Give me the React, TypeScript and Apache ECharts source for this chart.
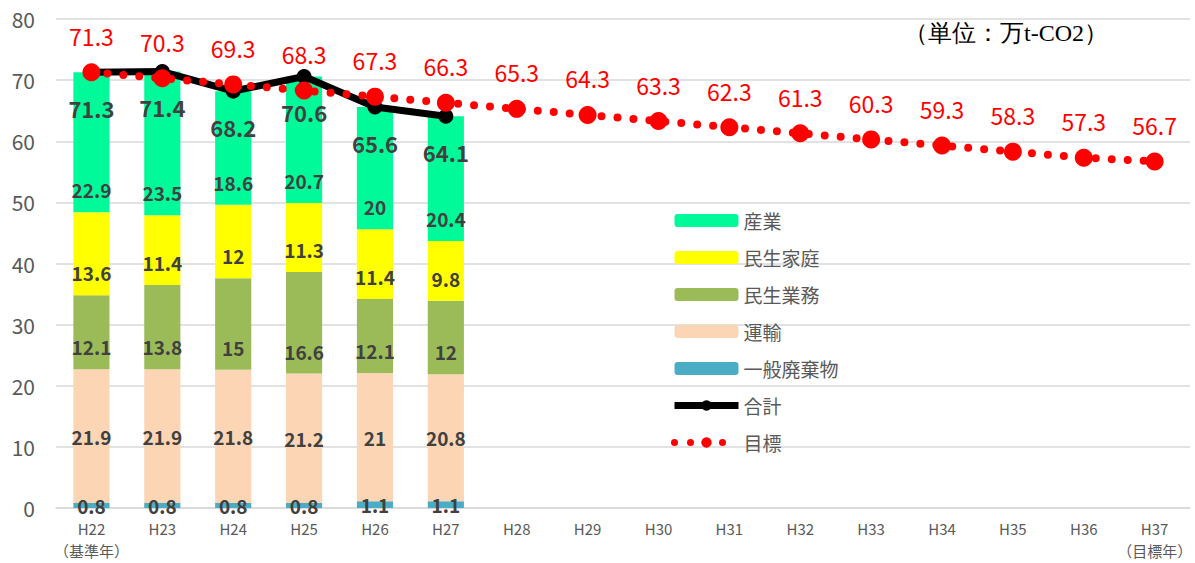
import React, { useEffect, useRef } from "react";
import * as echarts from "echarts";

const categories = ["H22\n（基準年）", "H23", "H24", "H25", "H26", "H27", "H28", "H29", "H30", "H31", "H32", "H33", "H34", "H35", "H36", "H37\n（目標年）"];
const waste = [0.8, 0.8, 0.8, 0.8, 1.1, 1.1];
const transport = [21.9, 21.9, 21.8, 21.2, 21, 20.8];
const business = [12.1, 13.8, 15, 16.6, 12.1, 12];
const household = [13.6, 11.4, 12, 11.3, 11.4, 9.8];
const industry = [22.9, 23.5, 18.6, 20.7, 20, 20.4];
const total = [71.3, 71.4, 68.2, 70.6, 65.6, 64.1];
const target = [71.3, 70.3, 69.3, 68.3, 67.3, 66.3, 65.3, 64.3, 63.3, 62.3, 61.3, 60.3, 59.3, 58.3, 57.3, 56.7];
const yTicks = [0, 10, 20, 30, 40, 50, 60, 70, 80];

const FONT = "'Noto Sans CJK JP', 'Noto Sans', sans-serif";

export default function App() {
  const ref = useRef<HTMLDivElement>(null);
  useEffect(() => {
    if (!ref.current) return;
    const chart = echarts.init(ref.current, undefined, { renderer: "svg" });
    const bar = (name: string, data: number[], color: string, position: string, distance: number) => ({
      name,
      type: "bar",
      stack: "total",
      data,
      barWidth: "51%",
      itemStyle: { color },
      label: {
        show: true,
        position,
        distance,
        color: "#404040",
        fontWeight: "bold",
        fontSize: 19,
        fontFamily: FONT,
      },
    });
    chart.setOption({
      animation: false,
      textStyle: { fontFamily: FONT },
      grid: { left: 56, right: 0, top: 19, bottom: 55, containLabel: false },
      graphic: [
        {
          type: "text",
          left: 904,
          top: 21,
          style: { text: "（単位：万t-CO2）", fontFamily: "serif", fontSize: 24, fill: "#000" },
        },
      ],
      legend: {
        orient: "vertical",
        left: 666,
        top: 206,
        itemWidth: 64,
        itemHeight: 13,
        itemGap: 18,
        textStyle: { color: "#595959", fontSize: 19, fontFamily: FONT },
        data: [
          "産業",
          "民生家庭",
          "民生業務",
          "運輸",
          "一般廃棄物",
          { name: "合計", lineStyle: { width: 7 } },
          { name: "目標", lineStyle: { width: 7 } },
        ],
      },
      xAxis: {
        type: "category",
        data: categories,
        axisTick: { show: false },
        axisLine: { lineStyle: { color: "#d9d9d9", width: 1.5 } },
        axisLabel: { color: "#595959", fontSize: 15, lineHeight: 22, margin: 9, interval: 0, fontFamily: FONT },
      },
      yAxis: {
        type: "value",
        min: yTicks[0],
        max: yTicks[yTicks.length - 1],
        interval: 10,
        axisLine: { show: false },
        axisTick: { show: false },
        splitLine: { lineStyle: { color: "#d9d9d9", width: 1.5 } },
        axisLabel: { color: "#595959", fontSize: 21, margin: 21, fontFamily: FONT },
      },
      series: [
        bar("一般廃棄物", waste, "#4bacc6", "inside", 5),
        bar("運輸", transport, "#fcd5b5", "inside", 5),
        bar("民生業務", business, "#9bbb59", "insideBottom", 13),
        bar("民生家庭", household, "#ffff00", "insideBottom", 13),
        bar("産業", industry, "#00fa9a", "insideBottom", 13),
        {
          name: "合計",
          type: "line",
          data: total,
          symbol: "circle",
          symbolSize: 15,
          itemStyle: { color: "#000" },
          lineStyle: { color: "#000", width: 7 },
          label: {
            show: true,
            position: "bottom",
            distance: 17,
            color: "#404040",
            fontWeight: "bold",
            fontSize: 22,
            fontFamily: FONT,
          },
          z: 3,
        },
        {
          name: "目標",
          type: "line",
          data: target,
          symbol: "circle",
          symbolSize: 18,
          itemStyle: { color: "#ff0000" },
          lineStyle: { color: "#ff0000", width: 8, type: [0, 16], cap: "round" },
          label: {
            show: true,
            position: "top",
            distance: 16,
            color: "#ff0000",
            fontSize: 23,
            fontFamily: FONT,
          },
          z: 4,
        },
      ],
    });
    return () => chart.dispose();
  }, []);
  return <div ref={ref} style={{ position: "absolute", left: 0, top: 0, width: 1195, height: 563 }} />;
}
